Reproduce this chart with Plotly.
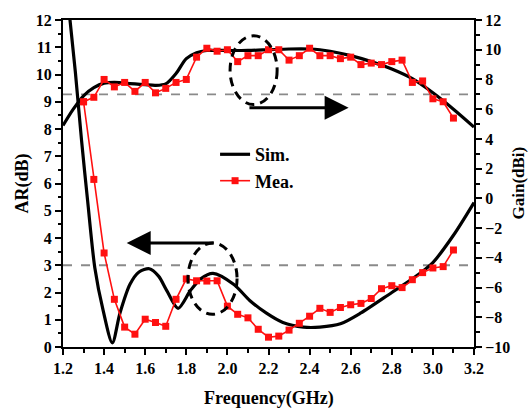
import plotly.graph_objects as go

# Simulated axial ratio (left axis)
ar_sim_freq = [1.23, 1.26, 1.29, 1.32, 1.355, 1.395, 1.44, 1.477, 1.526, 1.57, 1.62,
               1.665, 1.705, 1.76, 1.82, 1.87, 1.93, 2.03, 2.11, 2.19, 2.27, 2.37,
               2.45, 2.55, 2.65, 2.8, 2.9, 3.0, 3.1, 3.2]
ar_sim = [12.3, 10.1, 7.6, 5.35, 2.9, 1.35, 0.15, 1.24, 2.3, 2.75, 2.87,
          2.6, 2.07, 1.42, 2.07, 2.5, 2.7, 2.3, 1.7, 1.24, 0.9, 0.73,
          0.73, 0.85, 1.25, 2.0, 2.5, 3.1, 4.1, 5.3]

# Simulated gain (right axis)
gain_sim_freq = [1.2, 1.25, 1.3, 1.35, 1.4, 1.45, 1.5, 1.55, 1.6, 1.65, 1.7, 1.75,
                 1.8, 1.85, 1.9, 1.95, 2.0, 2.1, 2.2, 2.3, 2.4, 2.45, 2.5, 2.6,
                 2.7, 2.8, 2.9, 3.0, 3.1, 3.2]
gain_sim = [4.9, 6.0, 6.9, 7.45, 7.75, 7.8, 7.75, 7.7, 7.65, 7.6, 7.7, 8.4,
            9.4, 9.8, 9.95, 9.95, 9.95, 9.95, 10.0, 10.05, 10.05, 10.0, 9.9, 9.6,
            9.2, 8.7, 8.05, 7.1, 6.0, 4.8]

# Measured data, 1.30-3.10 GHz in 0.05 GHz steps
mea_freq = [round(1.3 + 0.05 * i, 2) for i in range(37)]
ar_mea = [9.0, 6.15, 3.45, 1.75, 0.73, 0.47, 1.02, 0.9, 0.76, 1.75, 2.5, 2.43,
          2.42, 2.43, 1.5, 1.2, 1.07, 0.65, 0.36, 0.4, 0.62, 0.87, 1.13, 1.42,
          1.27, 1.45, 1.55, 1.6, 1.78, 2.14, 2.25, 2.18, 2.47, 2.73, 2.9, 2.95, 3.56]
gain_mea = [6.5, 6.8, 8.0, 7.5, 7.8, 7.2, 7.8, 7.1, 7.4, 7.8, 8.0, 9.5,
            10.1, 9.9, 10.0, 9.2, 9.6, 9.6, 10.0, 10.0, 9.3, 9.6, 10.1, 9.6,
            9.6, 9.4, 9.5, 9.0, 9.1, 9.0, 9.2, 9.3, 7.8, 7.9, 6.7, 6.5, 5.4]

AR_LIMIT = 3.0      # 3-dB AR line
GAIN_LIMIT = 7.0    # 3-dB gain line

FONT = "Liberation Serif"
BLACK = "#000000"
RED = "#ff1010"

fig = go.Figure()

fig.add_trace(go.Scatter(x=ar_sim_freq, y=ar_sim, mode="lines", name="Sim.",
                         line=dict(color=BLACK, width=3.2, shape="spline", smoothing=0.8),
                         yaxis="y", showlegend=True))
fig.add_trace(go.Scatter(x=gain_sim_freq, y=gain_sim, mode="lines", name="Sim.",
                         line=dict(color=BLACK, width=3.2, shape="spline", smoothing=0.8),
                         yaxis="y2", showlegend=False))
fig.add_trace(go.Scatter(x=mea_freq, y=ar_mea, mode="lines+markers", name="Mea.",
                         line=dict(color=RED, width=1.6),
                         marker=dict(symbol="square", size=7, color=RED),
                         yaxis="y", showlegend=True))
fig.add_trace(go.Scatter(x=mea_freq, y=gain_mea, mode="lines+markers", name="Mea.",
                         line=dict(color=RED, width=1.6),
                         marker=dict(symbol="square", size=7, color=RED),
                         yaxis="y2", showlegend=False))

shapes = [
    dict(type="line", xref="paper", x0=0, x1=1, yref="y", y0=AR_LIMIT, y1=AR_LIMIT,
         line=dict(color="#8a8a8a", width=1.8, dash="dash"), layer="below"),
    dict(type="line", xref="paper", x0=0, x1=1, yref="y2", y0=GAIN_LIMIT, y1=GAIN_LIMIT,
         line=dict(color="#8a8a8a", width=1.8, dash="dash"), layer="below"),
    # dashed ellipses marking the curves that the arrows refer to
    dict(type="circle", xref="x", yref="y", x0=2.013, x1=2.242, y0=8.9, y1=11.42,
         line=dict(color=BLACK, width=3, dash="9px,6px")),
    dict(type="circle", xref="x", yref="y", x0=1.808, x1=2.047, y0=1.2, y1=3.82,
         line=dict(color=BLACK, width=3, dash="9px,6px")),
]

annotations = [
    # arrow pointing to the gain axis
    dict(x=2.59, y=6.1, ax=2.10, ay=6.1, xref="x", yref="y2", axref="x", ayref="y2",
         showarrow=True, arrowhead=2, arrowsize=1.6, arrowwidth=3, arrowcolor=BLACK, text=""),
    # arrow pointing to the AR axis
    dict(x=1.51, y=3.82, ax=1.94, ay=3.82, xref="x", yref="y", axref="x", ayref="y",
         showarrow=True, arrowhead=2, arrowsize=1.6, arrowwidth=3, arrowcolor=BLACK, text=""),
    dict(text="AR(dB)", xref="paper", yref="paper", x=0.0, y=0.5, textangle=-90,
         xanchor="center", yanchor="middle", xshift=-41, showarrow=False,
         font=dict(family=FONT, size=18, color=BLACK, weight="bold")),
    dict(text="Gain(dBi)", xref="paper", yref="paper", x=1.0, y=0.5, textangle=-90,
         xanchor="center", yanchor="middle", xshift=44, showarrow=False,
         font=dict(family=FONT, size=17, color=BLACK, weight="bold")),
    dict(text="Frequency(GHz)", xref="paper", yref="paper", x=0.5, y=0.0,
         xanchor="center", yanchor="middle", yshift=-51, showarrow=False,
         font=dict(family=FONT, size=18, color=BLACK, weight="bold")),
]

tickfont = dict(family=FONT, size=16, color=BLACK, weight="bold")

fig.update_layout(
    width=529, height=413,
    margin=dict(l=63, r=55, t=17, b=66),
    paper_bgcolor="white", plot_bgcolor="white",
    shapes=shapes, annotations=annotations,
    legend=dict(x=0.37, y=0.645, xanchor="left", yanchor="top",
                bgcolor="rgba(0,0,0,0)", tracegroupgap=0, itemwidth=30,
                font=dict(family=FONT, size=18, color=BLACK, weight="bold")),
    xaxis=dict(range=[1.2, 3.2], dtick=0.2, tick0=1.2, tickformat=".1f",
               showgrid=False, zeroline=False, showline=True, linecolor=BLACK,
               linewidth=2, mirror=True, ticks="outside", ticklen=6, tickwidth=2,
               tickcolor=BLACK, tickfont=tickfont,
               minor=dict(dtick=0.1, ticklen=3.5, tickwidth=1.5, tickcolor=BLACK,
                          ticks="outside")),
    yaxis=dict(range=[0, 12], dtick=1, showgrid=False, zeroline=False,
               showline=True, linecolor=BLACK, linewidth=2, ticks="outside",
               ticklen=6, tickwidth=2, tickcolor=BLACK, tickfont=tickfont,
               minor=dict(dtick=0.5, ticklen=3.5, tickwidth=1.5, tickcolor=BLACK,
                          ticks="outside")),
    yaxis2=dict(range=[-10, 12], dtick=2, overlaying="y", side="right",
                showgrid=False, zeroline=False, showline=True, linecolor=BLACK,
                linewidth=2, ticks="outside", ticklen=6, tickwidth=2,
                tickcolor=BLACK, tickfont=tickfont,
                minor=dict(dtick=1, ticklen=3.5, tickwidth=1.5, tickcolor=BLACK,
                           ticks="outside")),
)

fig.write_html("out.html")
